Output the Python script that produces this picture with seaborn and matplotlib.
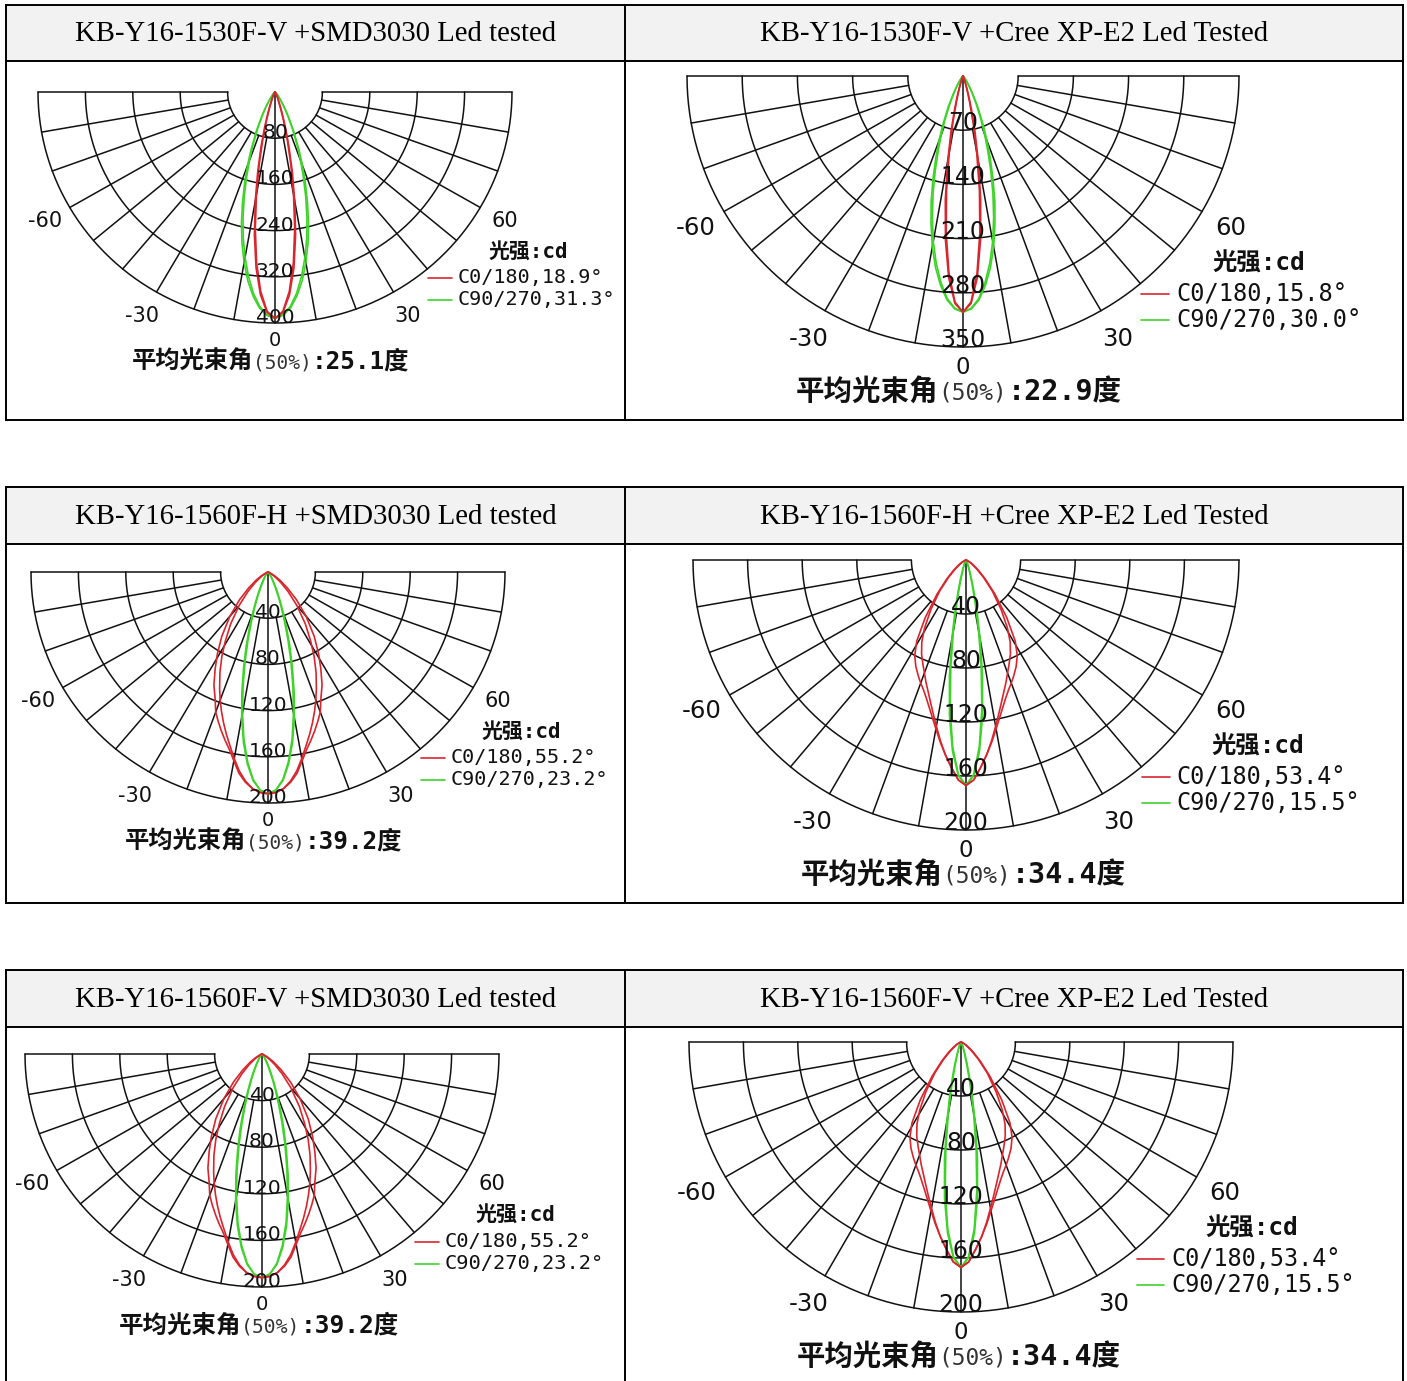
import numpy as np
import pandas as pd
import matplotlib
matplotlib.use("Agg")
import matplotlib.pyplot as plt
from matplotlib.patches import Rectangle
import seaborn as sns

W, H = 1407, 1381

# header titles
titles_left = ["KB-Y16-1530F-V +SMD3030 Led tested",
               "KB-Y16-1560F-H +SMD3030 Led tested",
               "KB-Y16-1560F-V +SMD3030 Led tested"]
titles_right = ["KB-Y16-1530F-V +Cree XP-E2 Led Tested",
                "KB-Y16-1560F-H +Cree XP-E2 Led Tested",
                "KB-Y16-1560F-V +Cree XP-E2 Led Tested"]

# gamma angles (deg) of the intensity readings
angles = [0, 2, 4, 6, 8, 10, 12, 14, 16, 18, 20, 22, 25, 28, 31, 35, 40, 45, 50, 55, 60, 70, 80, 90]

# 1530F-V + SMD3030 (cd)
smd30_c0 = [392, 380, 346, 297, 239, 180, 128, 86, 54, 32, 18, 12, 7, 4, 2, 1, 0.5, 0, 0, 0, 0, 0, 0, 0]
smd30_c180 = [392, 382, 352, 306, 250, 192, 140, 97, 64, 40, 25, 16, 9, 5, 3, 1.5, 0.5, 0, 0, 0, 0, 0, 0, 0]
smd30_c90 = [392, 387, 375, 355, 330, 300, 268, 234, 199, 166, 136, 108, 74, 48, 30, 15, 6, 2.5, 1, 0.5, 0, 0, 0, 0]
smd30_c270 = [392, 386, 372, 350, 322, 291, 258, 223, 188, 155, 126, 100, 68, 44, 28, 14, 6, 2.5, 1, 0.5, 0, 0, 0, 0]

# 1530F-V + Cree XP-E2
cree30_c0 = [305, 292, 255, 204, 150, 100, 62, 34, 18, 8, 4, 2, 1, 0.5, 0, 0, 0, 0, 0, 0, 0, 0, 0, 0]
cree30_c180 = [305, 294, 261, 213, 161, 112, 73, 44, 25, 13, 7, 4, 2, 1, 0.5, 0, 0, 0, 0, 0, 0, 0, 0, 0]
cree30_c90 = [305, 301, 290, 272, 250, 224, 195, 167, 138, 112, 89, 69, 45, 27, 16, 7, 2, 1, 0, 0, 0, 0, 0, 0]
cree30_c270 = [305, 300, 288, 268, 244, 217, 187, 157, 128, 102, 80, 61, 39, 23, 13, 6, 2, 1, 0, 0, 0, 0, 0, 0]

# 1560F + SMD3030
smd60_c0 = [192, 191, 188, 183, 176, 166, 157, 150, 143, 136, 129, 119, 108, 95, 83, 68, 50, 34, 21, 12, 6, 1, 0, 0]
smd60_c180 = [192, 191, 188, 182, 174, 164, 154, 145, 136, 127, 118, 109, 96, 83, 70, 55, 38, 24, 14, 7, 3, 0.5, 0, 0]
smd60_c90 = [192, 189, 180, 165, 146, 124, 101, 80, 61, 45, 33, 24, 14, 8, 5, 3, 1, 0.5, 0, 0, 0, 0, 0, 0]
smd60_c270 = [192, 189, 181, 167, 149, 128, 106, 85, 67, 51, 38, 28, 18, 11, 7, 4, 2, 1, 0.5, 0, 0, 0, 0, 0]

# 1560F + Cree XP-E2
cree60_c0 = [167, 163, 154, 145, 136, 127, 119, 112, 106, 101, 97, 93, 87, 80, 70, 52, 33, 20, 12, 7, 4, 1, 0, 0]
cree60_c180 = [167, 163, 154, 145, 135, 125, 116, 108, 101, 95, 89, 84, 77, 69, 59, 45, 30, 18, 10, 5, 3, 0.5, 0, 0]
cree60_c90 = [167, 159, 139, 111, 80, 53, 32, 18, 10, 6, 4, 3, 2, 1, 0.5, 0, 0, 0, 0, 0, 0, 0, 0, 0]
cree60_c270 = [167, 160, 142, 116, 87, 60, 39, 24, 15, 9, 6, 4, 2, 1, 0.5, 0, 0, 0, 0, 0, 0, 0, 0, 0]

ring_steps = {"smd30": 80, "cree30": 70, "smd60": 40, "cree60": 40}
beam_c0 = {"smd30": "18.9", "cree30": "15.8", "smd60": "55.2", "cree60": "53.4"}
beam_c90 = {"smd30": "31.3", "cree30": "30.0", "smd60": "23.2", "cree60": "15.5"}
beam_avg = {"smd30": "25.1", "cree30": "22.9", "smd60": "39.2", "cree60": "34.4"}
curves = {
    "smd30": (smd30_c0, smd30_c180, smd30_c90, smd30_c270),
    "cree30": (cree30_c0, cree30_c180, cree30_c90, cree30_c270),
    "smd60": (smd60_c0, smd60_c180, smd60_c90, smd60_c270),
    "cree60": (cree60_c0, cree60_c180, cree60_c90, cree60_c270),
}
panel_keys = [["smd30", "cree30"], ["smd60", "cree60"], ["smd60", "cree60"]]

# layout in pixels: (table top, header bottom, table bottom)
tables = [(5, 61, 420), (487, 544, 903), (970, 1027, 1400)]
# pole x, pole y, horizontal radius, vertical radius
poles = [[(275, 92, 237, 231), (963, 76, 276, 271)],
         [(268, 572, 237, 231), (966, 560, 273, 270)],
         [(262, 1054, 237, 233), (961, 1042, 272, 270)]]

RED = "#d8262e"
GREEN = "#3fd22a"
INK = "#111111"

sns.set_theme(style="white")
plt.rcParams["font.family"] = ["DejaVu Sans", "Noto Sans CJK SC"]

fig = plt.figure(figsize=(W / 100, H / 100), dpi=100)
bg = fig.add_axes([0, 0, 1, 1])
bg.set_xlim(0, W)
bg.set_ylim(H, 0)
bg.axis("off")

x0, xm, x1 = 6, 625, 1403
for i, (top, hdr, bot) in enumerate(tables):
    bg.add_patch(Rectangle((x0, top), x1 - x0, hdr - top, facecolor="#f2f2f2", edgecolor="none"))
    for y in (top, hdr, bot):
        bg.plot([x0, x1], [y, y], color="black", lw=1.4, solid_capstyle="projecting")
    for x in (x0, xm, x1):
        bg.plot([x, x], [top, bot], color="black", lw=1.4, solid_capstyle="projecting")
    cy = (top + hdr) / 2 + 1
    bg.text((x0 + xm) / 2, cy, titles_left[i], ha="center", va="center",
            family="Liberation Serif", fontsize=20.7, color="black")
    bg.text((xm + x1) / 2, cy, titles_right[i], ha="center", va="center",
            family="Liberation Serif", fontsize=20.7, color="black")


def lobe(right, left):
    a = np.array(angles, dtype=float)
    th = np.deg2rad(np.concatenate([-a[::-1], a[1:]]))
    r = np.concatenate([np.array(left)[::-1], np.array(right)[1:]])
    return pd.DataFrame({"theta": th, "cd": r})


for row in range(3):
    for col in range(2):
        key = panel_keys[row][col]
        cx, cy, rh, rv = poles[row][col]
        s = rv / 231
        step = ring_steps[key]
        rmax = 5 * step
        ax = fig.add_axes([(cx - rh) / W, (H - cy - rv) / H, 2 * rh / W, 2 * rv / H],
                          projection="polar")
        ax.set_theta_zero_location("S")
        ax.axis("off")
        ax.set_aspect("auto")

        # grid
        half = np.deg2rad(np.linspace(-90, 90, 181))
        for k in range(1, 6):
            ax.plot(half, np.full_like(half, k * step), color="#111111", lw=1.1, clip_on=False)
        for a in range(-90, 91, 10):
            r_start = 0 if a == 0 else step
            ax.plot([np.deg2rad(a)] * 2, [r_start, rmax], color="#111111", lw=1.1, clip_on=False)

        c0, c180, c90, c270 = curves[key]
        for right, left, colr in [(c90, c270, GREEN), (c270, c90, GREEN),
                                  (c0, c180, RED), (c180, c0, RED)]:
            sns.lineplot(data=lobe(right, left), x="theta", y="cd", ax=ax, color=colr,
                         lw=1.2, estimator=None, sort=False, clip_on=False)
        ax.set_ylim(0, rmax)

        for k in range(1, 6):
            ax.text(0, k * step, str(k * step), ha="center", va="baseline",
                    fontsize=14.5 * s, color=INK)
        for a in (-60, -30, 30, 60):
            ax.text(np.deg2rad(a), rmax * 1.12, str(a), ha="center", va="center",
                    fontsize=15 * s, color=INK)
        ax.text(0, rmax * 1.075, "0", ha="center", va="center", fontsize=14 * s, color=INK)

        # legend
        ax.text(1.035, 0.1535, "光强:cd", transform=ax.transAxes, ha="center", va="center",
                family=["DejaVu Sans Mono", "Noto Sans CJK SC"], fontweight="bold",
                fontsize=15 * s, color=INK)
        for yy, colr, lab in [(0.0975, RED, "C0/180," + beam_c0[key] + "°"),
                              (0.05, GREEN, "C90/270," + beam_c90[key] + "°")]:
            ax.plot([0.823, 0.874], [yy, yy], transform=ax.transAxes, color=colr,
                    lw=1.2, clip_on=False)
            ax.text(0.886, yy, lab, transform=ax.transAxes, ha="left", va="center",
                    family="DejaVu Sans Mono", fontsize=14.5 * s, color=INK)

        # average beam angle
        t1 = ax.text(0.1975, -0.083, "平均光束角", transform=ax.transAxes, ha="left",
                     va="center", family=["Noto Sans CJK SC"], fontweight="bold",
                     fontsize=17.5 * s, color=INK)
        t2 = ax.annotate("(50%)", xy=(1, 0.45), xycoords=t1, ha="left", va="center",
                         family="DejaVu Sans Mono", fontsize=14 * s, color="#333333")
        ax.annotate(":" + beam_avg[key] + "度", xy=(1, 0.55), xycoords=t2, ha="left",
                    va="center", family=["DejaVu Sans Mono", "Noto Sans CJK SC"],
                    fontweight="bold", fontsize=17.5 * s, color=INK)

fig.savefig("out.png", dpi=100, facecolor="white")
